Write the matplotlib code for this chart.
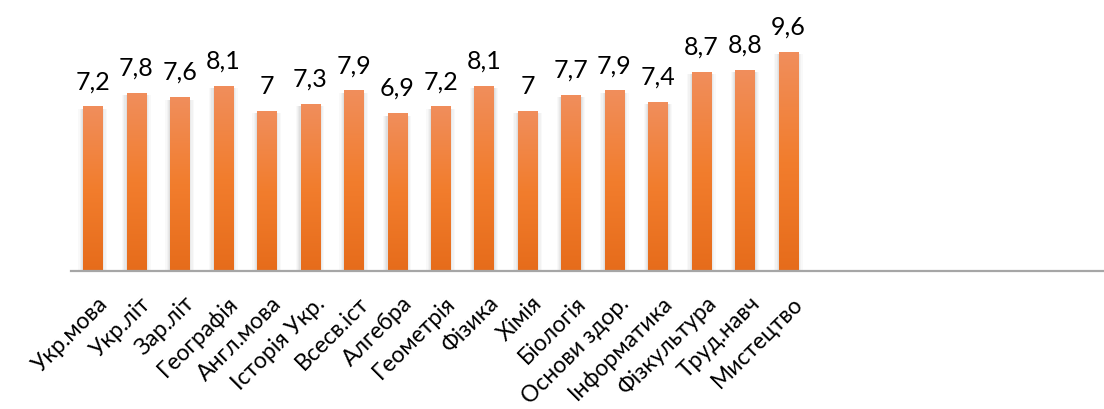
import matplotlib.pyplot as plt
import numpy as np
from matplotlib.colors import LinearSegmentedColormap
from matplotlib.patches import Rectangle
from matplotlib.transforms import ScaledTranslation

# Data
subjects = ["Укр.мова", "Укр.літ", "Зар.літ", "Географія", "Англ.мова",
            "Історія Укр.", "Всесв.іст", "Алгебра", "Геометрія", "Фізика",
            "Хімія", "Біологія", "Основи здор.", "Інформатика", "Фізкультура",
            "Труд.навч", "Мистецтво"]
scores = [7.2, 7.8, 7.6, 8.1, 7, 7.3, 7.9, 6.9, 7.2, 8.1,
          7, 7.7, 7.9, 7.4, 8.7, 8.8, 9.6]

fonts = ['Lato', 'Open Sans', 'DejaVu Sans']

fig = plt.figure(figsize=(11.04, 4.10), dpi=100)
ax = fig.add_axes([71 / 1104, 138 / 410, 1033 / 1104, 272 / 410])

# orange gradient, dark at the bottom, light at the top
grad = LinearSegmentedColormap.from_list('bar', ['#E66C1B', '#F27D2D', '#F08E5C'])

x = np.arange(len(subjects))
bars = ax.bar(x, scores, width=0.44, color='none', zorder=3)

for bar in bars:
    x0 = bar.get_x()
    w = bar.get_width()
    h = bar.get_height()
    # soft shadow either side
    for k, a in [(0.11, 0.04), (0.08, 0.05), (0.05, 0.07), (0.025, 0.09)]:
        ax.add_patch(Rectangle((x0 - k, 0), w + 2 * k, h - 0.08,
                               color='#7F7F7F', alpha=a, lw=0, zorder=2))
    ax.imshow(np.linspace(0, 1, 256).reshape(-1, 1), cmap=grad, origin='lower',
              extent=[x0, x0 + w, 0, h], aspect='auto', zorder=3)

for xi, v in zip(x, scores):
    ax.annotate(f'{v:g}'.replace('.', ','), (xi, v), xytext=(0, 13.5),
                textcoords='offset points', ha='center', va='baseline',
                fontsize=18, family=fonts, color='black')

ax.set_xlim(-0.5, 23.26)
ax.set_ylim(0, 11.93)

ax.set_xticks(x)
ax.set_xticklabels(subjects, rotation=45, ha='right', rotation_mode='anchor',
                   fontsize=16.5, family=fonts)
ax.tick_params(axis='x', length=0, pad=15)
shift = ScaledTranslation(4 / 100, 0, fig.dpi_scale_trans)
for lab in ax.get_xticklabels():
    lab.set_transform(lab.get_transform() + shift)
ax.set_yticks([])

for s in ['top', 'left', 'right']:
    ax.spines[s].set_visible(False)
ax.spines['bottom'].set_color('#A6A6A6')
ax.spines['bottom'].set_linewidth(1.6)
ax.spines['bottom'].set_zorder(4)

fig.savefig('out.png', dpi=100)
